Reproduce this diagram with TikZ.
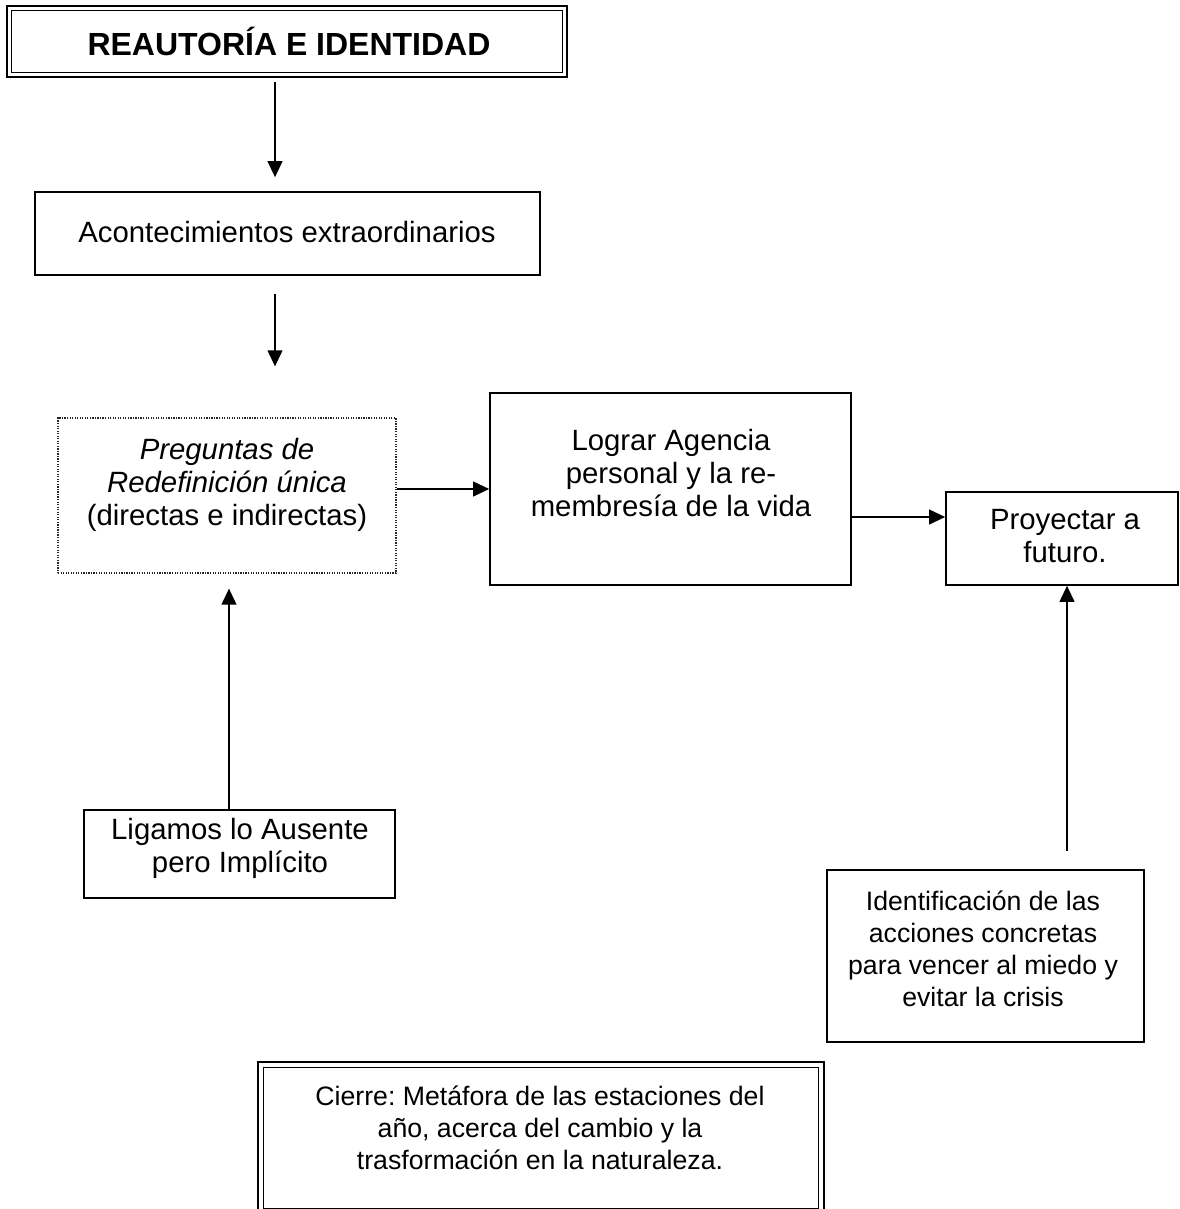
\documentclass[tikz,border=0pt]{standalone}
\usepackage{fontspec}
\setmainfont{Liberation Sans}
\usetikzlibrary{arrows.meta,calc}
\begin{document}
\frenchspacing
\begin{tikzpicture}[x=0.75pt,y=-0.75pt,
  box/.style={draw, line width=1.2pt, inner sep=0pt},
  dotbox/.style={draw=black!85, densely dotted, line width=0.9pt, inner sep=0pt},
  dblbox/.style={draw, line width=2.2pt, inner sep=0pt},
  innerline/.style={draw, line width=0.8pt},
  txt/.style={align=center, font=\fontsize{22}{24.75}\selectfont, inner sep=0pt},
  smalltxt/.style={align=center, font=\fontsize{20}{24}\selectfont, inner sep=0pt},
  titletxt/.style={align=center, font=\bfseries\fontsize{24}{28}\selectfont, inner sep=0pt},
  arr/.style={line width=1.5pt, -{Triangle[length=12pt,width=11pt]}}]
\useasboundingbox[fill=white] (0,0) rectangle (1180,1209);

% boxes
\node[dblbox, minimum width=420pt, minimum height=53.25pt] (title) at (287,41.5) {};
\draw[innerline] ($(title.north west)+(6,6)$) rectangle ($(title.south east)+(-6,-6)$);
\node[box, minimum width=378.75pt, minimum height=62.25pt] (acont) at (287.5,233.5) {};
\node[dotbox, minimum width=253.5pt, minimum height=116.25pt] (preg) at (227,495.5) {};
\node[box, minimum width=270.75pt, minimum height=144pt] (lograr) at (670.5,489) {};
\node[box, minimum width=174pt, minimum height=69.75pt] (proy) at (1062,538.5) {};
\node[box, minimum width=233.25pt, minimum height=66pt] (lig) at (239.5,854) {};
\node[box, minimum width=237.75pt, minimum height=129pt] (ident) at (985.5,956) {};
\node[dblbox, minimum width=424.5pt, minimum height=114pt] (cierre) at (541,1138) {};
\draw[innerline] ($(cierre.north west)+(7,7)$) rectangle ($(cierre.south east)+(-7,-7)$);

% texts
\node[titletxt] (titlet) at (289,41) {REAUTORÍA E IDENTIDAD};
\node[txt] (acontt) at (287,232) {Acontecimientos extraordinarios};
\node[txt] (pregt) at (227,485) {\textit{Preguntas de}\\\textit{Redefinición única}\\(directas e indirectas)};
\node[txt] (lograrr) at (671,473) {Lograr Agencia\\personal y la re-\\membresía de la vida};
\node[txt] (proyt) at (1065,536) {Proyectar a\\futuro.};
\node[txt] (ligt) at (240,848) {Ligamos lo Ausente\\pero Implícito};
\node[smalltxt] (identt) at (983,949) {Identificación de las\\acciones concretas\\para vencer al miedo y\\evitar la crisis};
\node[smalltxt] (cierret) at (540,1128) {Cierre: Metáfora de las estaciones del\\año, acerca del cambio y la\\trasformación en la naturaleza.};

% connectors
\draw[arr, shorten <=2.5pt, shorten >=10.5pt] ([xshift=-9pt]title.south) -- ([xshift=-9pt]title.south |- acont.north);
\draw[arr, shorten <=13.5pt, shorten >=38.25pt] ([xshift=-9.375pt]acont.south) -- ([xshift=-9.375pt]acont.south |- preg.north);
\draw[arr] (preg.east |- lograr.west) -- (lograr.west);
\coordinate (pin) at ([yshift=16.125pt]proy.west);
\draw[arr] (lograr.east |- pin) -- (pin);
\draw[arr, shorten >=11.25pt] ([xshift=-7.875pt]lig.north) -- ([xshift=-7.875pt]lig.north |- preg.south);
\draw[arr, shorten <=13.5pt] ([xshift=3.75pt]proy.south |- ident.north) -- ([xshift=3.75pt]proy.south);
\end{tikzpicture}
\end{document}
